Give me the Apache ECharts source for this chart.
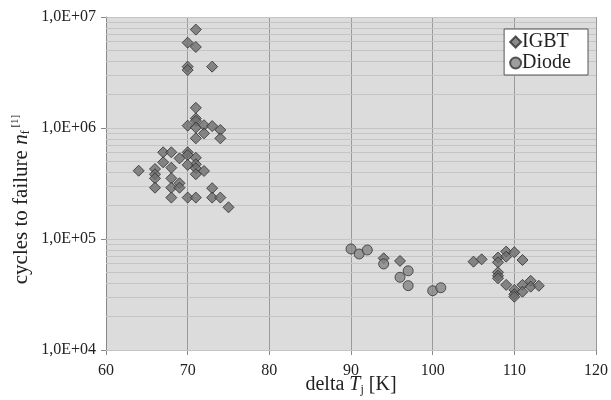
<!DOCTYPE html>
<html>
<head>
<meta charset="utf-8">
<script src="https://cdn.jsdelivr.net/npm/echarts@6/dist/echarts.min.js"></script>
<style>
  html, body { margin: 0; padding: 0; background: #ffffff; }
  #chart { width: 611px; height: 400px; }
</style>
</head>
<body>
<div id="chart"></div>
<script>
// Power cycling results: junction temperature swing vs. cycles to failure
const igbtDeltaT = [71, 70, 71, 70, 70, 73, 71, 71, 71, 70, 71, 72, 73, 74, 72, 74, 71,
  67, 68, 69, 70, 70, 71, 71, 71, 70, 72, 71, 67, 68, 64, 66, 66, 66, 66, 68, 68, 69, 69,
  68, 70, 71, 73, 73, 74, 75,
  94, 96, 105, 106, 108, 108, 109, 109, 110, 111, 108, 108, 108, 109, 110, 110, 110, 111, 111, 112, 112, 113];
const igbtCycles = [7.7e6, 5.87e6, 5.37e6, 3.57e6, 3.33e6, 3.57e6, 1.52e6, 1.22e6, 1.16e6, 1.05e6, 1.01e6, 1.06e6, 1.04e6, 9.6e5, 8.95e5, 8.07e5, 8.07e5,
  6.04e5, 6.04e5, 5.33e5, 6.04e5, 5.72e5, 5.39e5, 4.71e5, 4.34e5, 4.65e5, 4.10e5, 3.83e5, 4.91e5, 4.39e5, 4.12e5, 4.27e5, 3.83e5, 3.52e5, 2.90e5, 3.52e5, 2.90e5, 3.18e5, 2.90e5,
  2.36e5, 2.36e5, 2.36e5, 2.87e5, 2.36e5, 2.36e5, 1.93e5,
  6.7e4, 6.34e4, 6.25e4, 6.56e4, 6.8e4, 6.17e4, 7.7e4, 6.93e4, 7.59e4, 6.47e4, 5.01e4, 4.67e4, 4.42e4, 3.86e4, 3.48e4, 3.18e4, 3.02e4, 3.86e4, 3.35e4, 4.2e4, 3.72e4, 3.79e4];

const diodeDeltaT = [90, 91, 92, 94, 97, 96, 97, 100, 101];
const diodeCycles = [8.13e4, 7.33e4, 7.96e4, 5.96e4, 5.17e4, 4.52e4, 3.8e4, 3.42e4, 3.64e4];

const xTicks = [60, 70, 80, 90, 100, 110, 120];
const yTickLabels = ['1,0E+04', '1,0E+05', '1,0E+06', '1,0E+07'];
// Horizontal grid: every 1..9 × 10^k between 10^4 and 10^7
const gridLevels = [];
[1e4, 1e5, 1e6].forEach(function (d) {
  for (let m = 1; m <= 9; m++) gridLevels.push(m * d);
});
gridLevels.push(1e7);

const serif = '"Liberation Serif", "DejaVu Serif", serif';
const ink = '#222222';

function pairs(xs, ys) {
  return xs.map(function (x, i) { return [x, ys[i]]; });
}

const chart = echarts.init(document.getElementById('chart'), null, { renderer: 'canvas' });
chart.setOption({
  animation: false,
  textStyle: { fontFamily: serif },
  grid: {
    left: 106, right: 15, top: 17, bottom: 50,
    outerBoundsMode: 'none',
    containLabel: false,
    show: true, backgroundColor: '#dcdcdc', borderWidth: 0
  },
  legend: {
    orient: 'vertical',
    right: 23, top: 29,
    z: 10,
    backgroundColor: '#ffffff',
    borderColor: '#555555', borderWidth: 1,
    padding: [3, 17, 2, 5],
    itemGap: 1, itemWidth: 11, itemHeight: 11,
    textStyle: { fontFamily: serif, fontSize: 20, color: ink, padding: [0, 0, 0, -4] },
    data: ['IGBT', 'Diode']
  },
  xAxis: {
    type: 'value',
    min: 60, max: 120, interval: 10,
    axisLine: { show: true, lineStyle: { color: '#888888' } },
    axisTick: { show: true, length: 5, lineStyle: { color: '#888888' } },
    axisLabel: {
      fontFamily: serif, fontSize: 16, color: ink, margin: 13,
      formatter: function (v) { return xTicks.indexOf(v) >= 0 ? String(v) : ''; }
    },
    splitLine: { show: true, lineStyle: { color: '#9a9a9a', width: 1 } },
    name: '{t|delta }{i|T}{s|j}{t| [K]}',
    nameLocation: 'middle',
    nameMoveOverlap: false,
    nameGap: 24,
    nameTextStyle: {
      rich: {
        t: { fontFamily: serif, fontSize: 20, color: ink },
        i: { fontFamily: serif, fontSize: 20, fontStyle: 'italic', color: ink },
        s: { fontFamily: serif, fontSize: 12, color: ink, verticalAlign: 'bottom', padding: [10, 0, 0, 0] }
      }
    }
  },
  yAxis: {
    type: 'log',
    logBase: 10,
    min: 1e4, max: 1e7,
    axisLine: { show: true, lineStyle: { color: '#888888' } },
    axisTick: { show: true, length: 5, lineStyle: { color: '#888888' } },
    axisLabel: {
      fontFamily: serif, fontSize: 16, color: ink, margin: 10,
      formatter: function (v) {
        const k = Math.round(Math.log10(v)) - 4;
        return yTickLabels[k] || '';
      }
    },
    splitLine: { show: false },
    name: '{t|cycles to failure }{i|n}{s|f}{p| [1]}',
    nameLocation: 'middle',
    nameMoveOverlap: false,
    nameRotate: 90,
    nameGap: 74,
    nameTextStyle: {
      padding: [0, 32, 0, 0],
      rich: {
        t: { fontFamily: serif, fontSize: 21, color: ink },
        i: { fontFamily: serif, fontSize: 21, fontStyle: 'italic', color: ink },
        s: { fontFamily: serif, fontSize: 12, color: ink, verticalAlign: 'bottom', padding: [10, 0, 0, 0] },
        p: { fontFamily: serif, fontSize: 11, color: ink, verticalAlign: 'top', padding: [0, 0, 10, 0] }
      }
    }
  },
  series: [
    {
      // horizontal decade and sub-decade grid
      type: 'line',
      data: [],
      silent: true,
      z: 1,
      markLine: {
        silent: true,
        z: 1,
        symbol: 'none',
        animation: false,
        label: { show: false },
        lineStyle: { color: '#c4c4c4', width: 1, type: 'solid' },
        data: gridLevels.map(function (v) { return { yAxis: v }; })
      }
    },
    {
      name: 'IGBT',
      type: 'scatter',
      symbol: 'diamond',
      symbolSize: 11,
      z: 3,
      itemStyle: { color: '#6e6e6e', borderColor: '#2e2e2e', borderWidth: 1 },
      data: pairs(igbtDeltaT, igbtCycles)
    },
    {
      name: 'Diode',
      type: 'scatter',
      symbol: 'circle',
      symbolSize: 10,
      z: 3,
      itemStyle: { color: '#858585', borderColor: '#333333', borderWidth: 1 },
      data: pairs(diodeDeltaT, diodeCycles)
    }
  ]
});
</script>
</body>
</html>
